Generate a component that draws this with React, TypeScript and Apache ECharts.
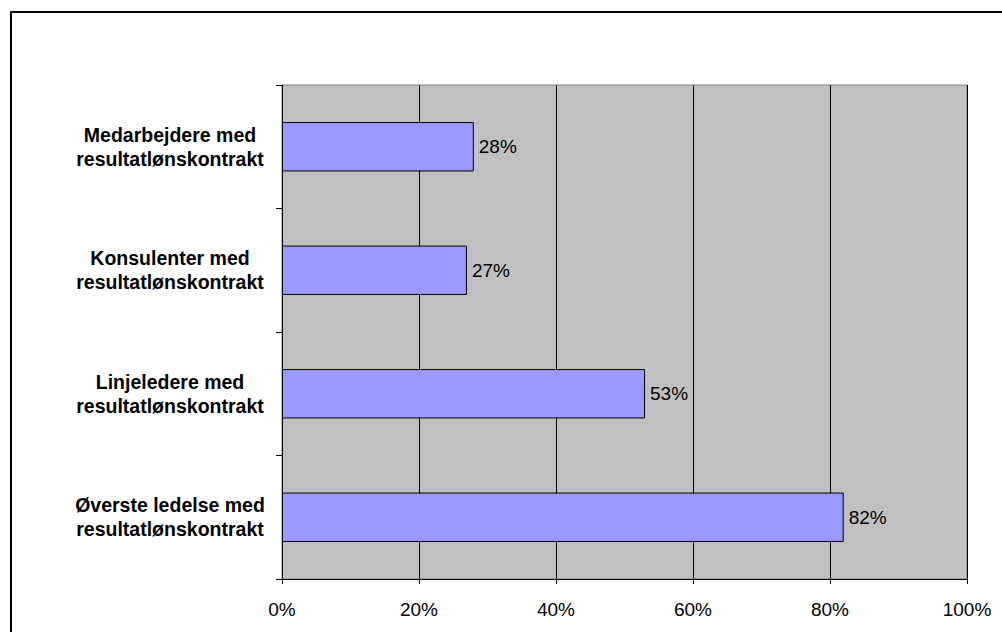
import React, { useEffect, useRef } from "react";
import * as echarts from "echarts";

const categories = [
  "Medarbejdere med\nresultatlønskontrakt",
  "Konsulenter med\nresultatlønskontrakt",
  "Linjeledere med\nresultatlønskontrakt",
  "Øverste ledelse med\nresultatlønskontrakt",
];
const values = [28, 27, 53, 82];
const xTicks = [0, 20, 40, 60, 80, 100];

const FONT = "Liberation Sans, Arial, sans-serif";

export default function App() {
  const ref = useRef<HTMLDivElement>(null);
  useEffect(() => {
    const chart = echarts.init(ref.current!, null, { renderer: "svg" });
    chart.setOption({
      animation: false,
      backgroundColor: "#ffffff",
      textStyle: { fontFamily: FONT },
      graphic: [
        { type: "rect", shape: { x: 10, y: 11, width: 2, height: 700 }, style: { fill: "#000" }, silent: true },
        { type: "rect", shape: { x: 10, y: 11, width: 1100, height: 2 }, style: { fill: "#000" }, silent: true },
      ],
      grid: {
        left: 282,
        top: 85,
        right: 35,
        bottom: 53,
        show: true,
        backgroundColor: "#C0C0C0",
        borderColor: "#808080",
        borderWidth: 1,
      },
      xAxis: {
        type: "value",
        min: xTicks[0],
        max: xTicks[xTicks.length - 1],
        interval: 20,
        axisLine: { show: true, lineStyle: { color: "#000", width: 1 } },
        axisTick: { show: true, length: 5, lineStyle: { color: "#000" } },
        axisLabel: {
          formatter: "{value}%",
          fontSize: 19,
          color: "#000",
          margin: 21,
          fontFamily: FONT,
        },
        splitLine: { show: true, lineStyle: { color: "#000", width: 1 } },
      },
      yAxis: {
        type: "category",
        data: categories,
        inverse: true,
        axisLine: { show: true, lineStyle: { color: "#000", width: 1 } },
        axisTick: { show: true, length: 6, inside: false, lineStyle: { color: "#000" } },
        axisLabel: {
          fontSize: 19.5,
          fontWeight: "bold",
          color: "#000",
          align: "center",
          margin: 112,
          lineHeight: 24,
          fontFamily: FONT,
        },
        splitLine: { show: false },
      },
      series: [
        {
          type: "bar",
          data: values,
          barCategoryGap: "60%",
          itemStyle: { color: "#9999FF", borderColor: "#000", borderWidth: 1 },
          label: {
            show: true,
            position: "right",
            formatter: "{c}%",
            fontSize: 19,
            color: "#000",
            distance: 5,
            fontFamily: FONT,
          },
        },
      ],
    });
    return () => chart.dispose();
  }, []);
  return (
    <div
      ref={ref}
      style={{ position: "fixed", left: 0, top: 0, width: 1002, height: 632 }}
    />
  );
}
